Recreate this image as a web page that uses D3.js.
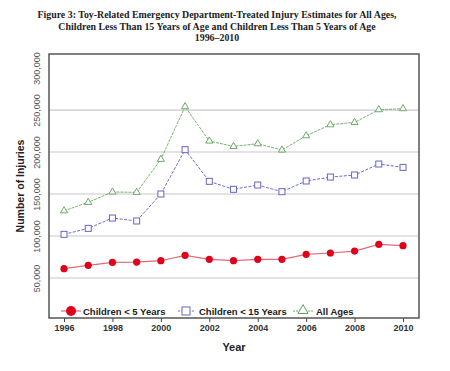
<!DOCTYPE html>
<html>
<head>
<meta charset="utf-8">
<script src="https://cdn.jsdelivr.net/npm/d3@7/dist/d3.min.js"></script>
<style>
  body { margin: 0; background: #fff; }
  svg text { font-family: "Liberation Sans", Arial, sans-serif; }
</style>
</head>
<body>
<script>
'use strict';

// chart data
const years = [1996, 1997, 1998, 1999, 2000, 2001, 2002, 2003, 2004, 2005, 2006, 2007, 2008, 2009, 2010];
const under5 = [61100, 65100, 68600, 69000, 70600, 77000, 72200, 70600, 72200, 72200, 78200, 79800, 82100, 90100, 88500];
const under15 = [102000, 109100, 121400, 117900, 150000, 202800, 165100, 155600, 160700, 152800, 165500, 170200, 172600, 185700, 181700];
const allAges = [130000, 140100, 152400, 152000, 191300, 254000, 213100, 206700, 209900, 202400, 219400, 232500, 235300, 250400, 251600];
const yTicks = [50000, 100000, 150000, 200000, 250000, 300000];
const xTicks = [1996, 1998, 2000, 2002, 2004, 2006, 2008, 2010];
const titleLines = [
  "Figure 3: Toy-Related Emergency Department-Treated Injury Estimates for All Ages,",
  "Children Less Than 15 Years of Age and Children Less Than 5 Years of Age",
  "1996\u20132010"
];
const seriesNames = ["Children < 5 Years", "Children < 15 Years", "All Ages"];

const W = 450, H = 371;
const frame = { left: 49, right: 419, top: 54, bottom: 318 };

let svg = d3.select('body').append('svg')
  .attr('width', W)
  .attr('height', H);

// scales
let x = d3.scaleLinear()
  .domain([1995.38, 2010.66])
  .range([frame.left, frame.right]);
let y = d3.scaleLinear()
  .domain([2400, 316700])
  .range([frame.bottom, frame.top]);

// title
svg.append('g').selectAll('text')
  .data(titleLines)
  .enter()
  .append('text')
  .attr('x', 217)
  .attr('y', (d, i) => 18 + i * 11.5)
  .attr('text-anchor', 'middle')
  .style('font-family', '"Liberation Serif", "Times New Roman", serif')
  .style('font-weight', 'bold')
  .style('font-size', '9.9px')
  .style('fill', '#222')
  .text(d => d);

// gridlines (no line at 300,000)
svg.append('g').selectAll('line')
  .data(yTicks.filter(d => d < 300000))
  .enter()
  .append('line')
  .attr('x1', frame.left)
  .attr('x2', frame.right)
  .attr('y1', d => y(d))
  .attr('y2', d => y(d))
  .attr('stroke', '#c8c8c8')
  .attr('stroke-width', 1.2);

// y axis labels, rotated
let yAxis = d3.axisLeft(y).tickValues(yTicks).tickFormat(d3.format(',')).tickSize(0).tickPadding(0);
let gy = svg.append('g')
  .attr('transform', 'translate(' + frame.left + ',0)')
  .call(yAxis);
gy.select('.domain').remove();
gy.selectAll('text')
  .attr('x', null).attr('dy', null)
  .attr('text-anchor', 'middle')
  .attr('transform', 'translate(-9,0) rotate(-90)')
  .style('font-size', '9px')
  .style('fill', '#555');

// x axis
let xAxis = d3.axisBottom(x).tickValues(xTicks).tickFormat(d3.format('d')).tickSize(4).tickPadding(3);
let gx = svg.append('g')
  .attr('transform', 'translate(0,' + frame.bottom + ')')
  .call(xAxis);
gx.select('.domain').remove();
gx.selectAll('line').attr('stroke', '#444');
gx.selectAll('text')
  .style('font-size', '9px')
  .style('font-weight', 'bold')
  .style('fill', '#333');

// frame
svg.append('rect')
  .attr('x', frame.left)
  .attr('y', frame.top)
  .attr('width', frame.right - frame.left)
  .attr('height', frame.bottom - frame.top)
  .attr('fill', 'none')
  .attr('stroke', '#555')
  .attr('stroke-width', 1.5);

// axis titles
svg.append('text')
  .attr('x', 234)
  .attr('y', 351)
  .attr('text-anchor', 'middle')
  .style('font-size', '11px')
  .style('font-weight', 'bold')
  .style('fill', '#222')
  .text('Year');

svg.append('text')
  .attr('transform', 'translate(24, 186) rotate(-90)')
  .attr('text-anchor', 'middle')
  .style('font-size', '10.5px')
  .style('font-weight', 'bold')
  .style('fill', '#222')
  .text('Number of Injuries');

let line = d3.line()
  .x(d => x(d[0]))
  .y(d => y(d[1]));

const triangle = d3.symbol().type(d3.symbolTriangle).size(22);

// all ages - green triangles
let allData = years.map((yr, i) => [yr, allAges[i]]);
svg.append('path')
  .datum(allData)
  .attr('fill', 'none')
  .attr('stroke', '#6aa86a')
  .attr('stroke-width', 0.9)
  .attr('stroke-dasharray', '3,1')
  .attr('d', line);
svg.append('g').selectAll('path')
  .data(allData)
  .enter()
  .append('path')
  .attr('d', triangle)
  .attr('transform', d => 'translate(' + x(d[0]) + ',' + y(d[1]) + ')')
  .attr('fill', 'white')
  .attr('stroke', '#5aa05a')
  .attr('stroke-width', 0.9);

// children < 15 - blue squares
let u15Data = years.map((yr, i) => [yr, under15[i]]);
svg.append('path')
  .datum(u15Data)
  .attr('fill', 'none')
  .attr('stroke', '#6b6bcc')
  .attr('stroke-width', 1)
  .attr('stroke-dasharray', '3,1.5')
  .attr('d', line);
svg.append('g').selectAll('rect')
  .data(u15Data)
  .enter()
  .append('rect')
  .attr('x', d => x(d[0]) - 3)
  .attr('y', d => y(d[1]) - 3)
  .attr('width', 6)
  .attr('height', 6)
  .attr('fill', 'white')
  .attr('stroke', '#6565c8')
  .attr('stroke-width', 1);

// children < 5 - red dots
let u5Data = years.map((yr, i) => [yr, under5[i]]);
svg.append('path')
  .datum(u5Data)
  .attr('fill', 'none')
  .attr('stroke', '#e06a78')
  .attr('stroke-width', 1.2)
  .attr('d', line);
svg.append('g').selectAll('circle')
  .data(u5Data)
  .enter()
  .append('circle')
  .attr('cx', d => x(d[0]))
  .attr('cy', d => y(d[1]))
  .attr('r', 3.6)
  .attr('fill', '#e0001a');

// legend
let legY = 311;
let leg = svg.append('g');
// red
leg.append('line').attr('x1', 61).attr('x2', 81).attr('y1', legY).attr('y2', legY)
  .attr('stroke', '#e06a78').attr('stroke-width', 1.2);
leg.append('circle').attr('cx', 71).attr('cy', legY).attr('r', 5).attr('fill', '#e0001a');
// blue
leg.append('line').attr('x1', 178).attr('x2', 194).attr('y1', legY).attr('y2', legY)
  .attr('stroke', '#6b6bcc').attr('stroke-dasharray', '2,1.5');
leg.append('rect').attr('x', 182).attr('y', legY - 4).attr('width', 8).attr('height', 8)
  .attr('fill', 'white').attr('stroke', '#6565c8');
// green
leg.append('line').attr('x1', 293).attr('x2', 313).attr('y1', legY).attr('y2', legY)
  .attr('stroke', '#6aa86a').attr('stroke-dasharray', '2,1');
leg.append('path').attr('d', d3.symbol().type(d3.symbolTriangle).size(45))
  .attr('transform', 'translate(303,' + (legY - 0.5) + ')')
  .attr('fill', 'white').attr('stroke', '#5aa05a');

const legX = [83, 199, 316];
leg.selectAll('text')
  .data(seriesNames)
  .enter()
  .append('text')
  .attr('x', (d, i) => legX[i])
  .attr('y', legY + 3.5)
  .style('font-size', '9.5px')
  .style('font-weight', 'bold')
  .style('fill', '#222')
  .text(d => d);
</script>
</body>
</html>
